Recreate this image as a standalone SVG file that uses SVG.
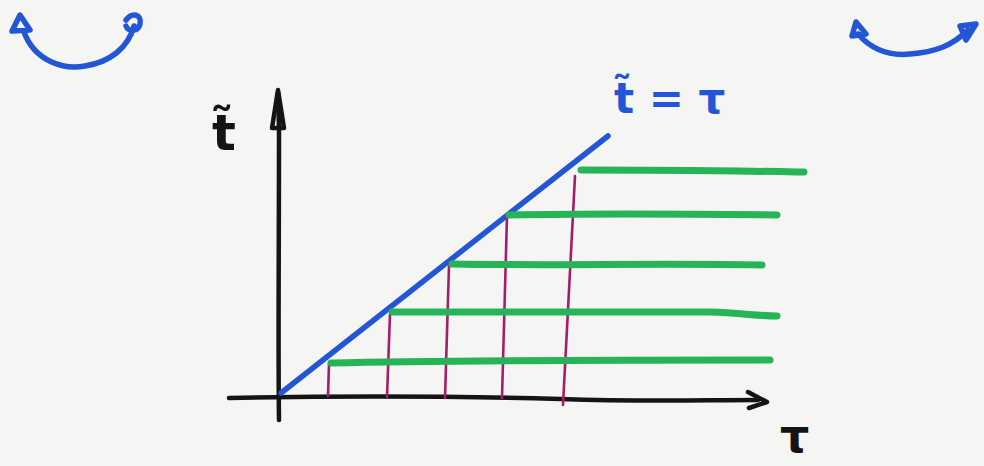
<svg xmlns="http://www.w3.org/2000/svg" width="984" height="466" viewBox="0 0 984 466">
<style>
.k{fill:none;stroke:#141414;stroke-width:4.5;stroke-linecap:round;stroke-linejoin:round}
.b{fill:none;stroke:#2356d6;stroke-width:5.5;stroke-linecap:round;stroke-linejoin:round}
.g{fill:none;stroke:#25b457;stroke-width:7;stroke-linecap:round}
.m{fill:none;stroke:#a51d68;stroke-width:2.6;stroke-linecap:round}
.lbl{font-family:"DejaVu Sans",sans-serif;font-weight:bold}
</style>
<rect width="984" height="466" fill="#f5f5f3"/>
<g id="rotation-left">
<path class="b" d="M24,32 C35,62 65,70 85,66 C110,62 128,48 134,26"/>
<path class="b" d="M12,31 L20,15 L30,30 Z M126,20 C132,12 142,14 140,24 C138,32 128,32 126,26"/>
</g>
<g id="rotation-right">
<path class="b" d="M858,34 C872,50 890,56 910,54 C935,52 952,46 968,30"/>
<path class="b" d="M852,36 L856,22 L866,34 Z M960,26 L976,24 L966,40 Z"/>
</g>
<g id="axes">
<path class="k" d="M279,420 C278,350 279,250 279,128 L278,92"/>
<path class="k" d="M272,128 L278,90 L284,128 Z"/>
<path class="k" d="M229,398 C330,396 450,396 560,399 C650,402 700,400 758,400"/>
<path class="k" d="M748,392 L767,402 L749,408"/>
</g>
<g id="diagonal">
<path class="b" d="M281,393 L608,136"/>
</g>
<g id="connectors">
<path class="m" d="M329,364 L328,396"/>
<path class="m" d="M390,314 L387,397"/>
<path class="m" d="M449,266 L445,398"/>
<path class="m" d="M507,216 L502,398"/>
<path class="m" d="M575,176 L563,405"/>
<path class="g" d="M331,363 C450,360 600,360 770,360"/>
<path class="g" d="M392,312 C500,313 600,311 710,312 C740,313 760,316 777,316"/>
<path class="g" d="M452,264 C560,266 650,263 762,265"/>
<path class="g" d="M509,215 C600,213 700,214 777,215"/>
<path class="g" d="M581,170 C680,170 740,171 804,172"/>
</g>
<g id="labels">
<text class="lbl" x="212" y="150" font-size="50" fill="#141414">t̃</text>
<text class="lbl" x="614" y="113" font-size="42" fill="#2356d6">t̃ = τ</text>
<text class="lbl" x="780" y="452" font-size="46" fill="#141414">τ</text>
</g>
</svg>
